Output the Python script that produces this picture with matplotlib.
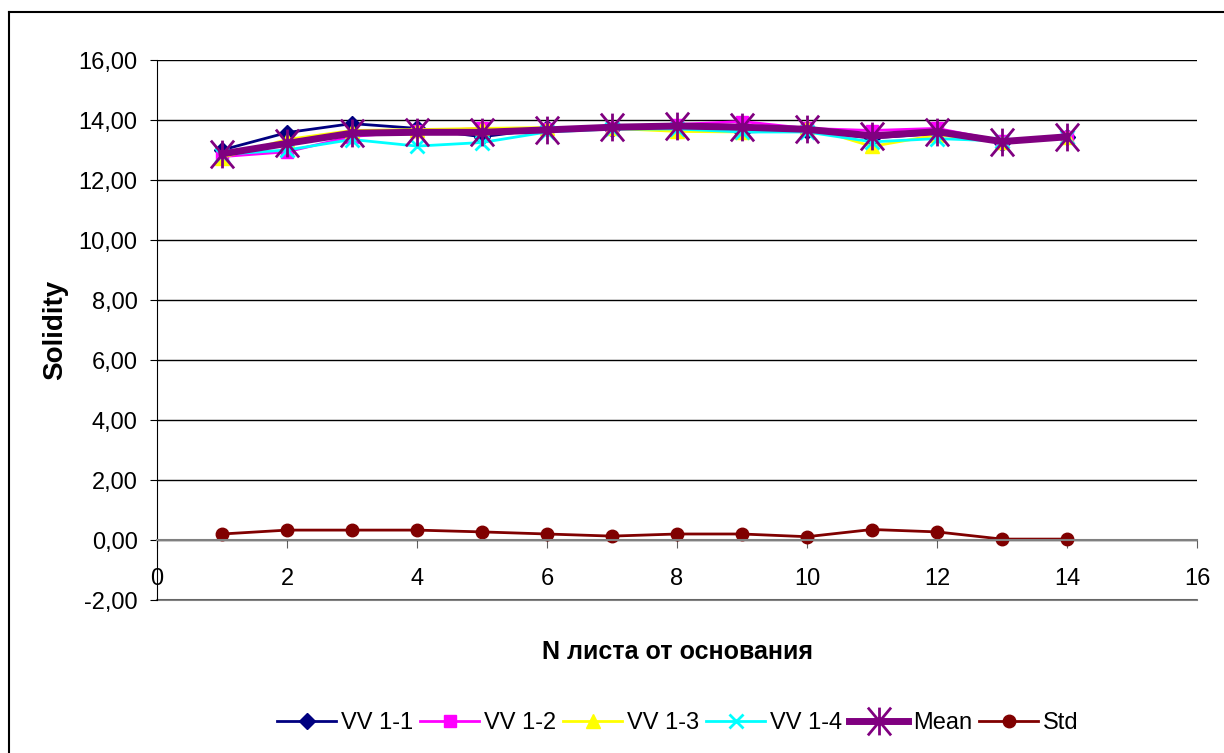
import matplotlib
matplotlib.use("Agg")
import matplotlib.pyplot as plt
from matplotlib.path import Path
from matplotlib.ticker import FuncFormatter

plt.rcParams['font.family'] = ['Liberation Sans', 'DejaVu Sans']

leaf = [1, 2, 3, 4, 5, 6, 7, 8, 9, 10, 11, 12, 13, 14]
vv11 = [13.00, 13.58, 13.88, 13.72, 13.44, 13.72, 13.70, 13.75, 13.60, 13.65, 13.40, 13.55, 13.25, 13.45]
vv12 = [12.78, 12.94, 13.45, 13.62, 13.72, 13.70, 13.75, 13.85, 13.95, 13.72, 13.65, 13.72, 13.30, 13.45]
vv13 = [12.75, 13.35, 13.65, 13.68, 13.72, 13.75, 13.72, 13.62, 13.60, 13.78, 13.12, 13.50, 13.28, 13.45]
vv14 = [12.85, 13.00, 13.35, 13.13, 13.25, 13.60, 13.70, 13.70, 13.60, 13.60, 13.27, 13.38, 13.30, 13.45]
mean = [12.87, 13.22, 13.56, 13.59, 13.59, 13.67, 13.76, 13.80, 13.76, 13.69, 13.47, 13.61, 13.28, 13.44]
std = [0.20, 0.33, 0.33, 0.33, 0.27, 0.20, 0.13, 0.20, 0.20, 0.11, 0.35, 0.27, 0.03, 0.03]

# Excel style star: an X with a vertical stroke through it
star = Path([(-1, -1.2), (1, 1.2), (-1, 1.2), (1, -1.2), (0, -1.2), (0, 1.2)],
            [Path.MOVETO, Path.LINETO, Path.MOVETO, Path.LINETO, Path.MOVETO, Path.LINETO])

fig = plt.figure(figsize=(12.24, 7.53), dpi=100)
ax = fig.add_axes([157 / 1224, 1 - 600 / 753, (1197 - 157) / 1224, 540 / 753])

ax.plot(leaf, vv11, color='#000080', lw=2, marker='D', ms=8, label='VV 1-1')
ax.plot(leaf, vv12, color='#FF00FF', lw=2, marker='s', ms=9, label='VV 1-2')
ax.plot(leaf, vv13, color='#FFFF00', lw=2, marker='^', ms=10, label='VV 1-3')
ax.plot(leaf, vv14, color='#00FFFF', lw=2, marker='x', ms=10, mew=2, label='VV 1-4')
ax.plot(leaf, mean, color='#800080', lw=5, marker=star, ms=20, mew=2, label='Mean')
ax.plot(leaf, std, color='#800000', lw=2, marker='o', ms=9, label='Std')

ax.set_xlim(0, 16)
ax.set_ylim(-2, 16)
ax.set_xticks(range(0, 17, 2))
ax.set_yticks(range(-2, 17, 2))
ax.yaxis.set_major_formatter(FuncFormatter(lambda v, p: f"{v:.2f}".replace('.', ',')))

ax.yaxis.grid(True, color='black', lw=1)
ax.set_axisbelow(True)
ax.axhline(-2, color='#808080', lw=1.5, clip_on=False, zorder=0.5)

ax.spines['top'].set_visible(False)
ax.spines['right'].set_visible(False)
ax.spines['bottom'].set_position(('data', 0))
ax.spines['bottom'].set_color('#808080')
ax.spines['bottom'].set_linewidth(1.5)
ax.spines['left'].set_color('black')
ax.tick_params(axis='x', direction='out', length=6, color='#606060', pad=14, labelsize=17)
ax.tick_params(axis='y', direction='out', length=5, color='black', pad=9, labelsize=17)

fig.text(55 / 1224, 1 - 330 / 753, 'Solidity', rotation=90, fontsize=20, fontweight='bold',
         ha='center', va='center')
fig.text(677 / 1224, 1 - 652 / 753, 'N листа от основания', fontsize=18, fontweight='bold',
         ha='center', va='center')

fig.legend(loc='center', bbox_to_anchor=(678 / 1224, 1 - 723 / 753), ncol=6, frameon=False,
           fontsize=17, handlelength=2.5, handletextpad=0.2, columnspacing=0.3, borderpad=0)

# outer chart border (clipped at right and bottom like the source)
fig.add_artist(plt.Line2D([9 / 1224, 9 / 1224], [0, 1 - 12 / 753], color='black', lw=1.5))
fig.add_artist(plt.Line2D([9 / 1224, 1], [1 - 12 / 753, 1 - 12 / 753], color='black', lw=1.5))

fig.savefig('out.png', dpi=100)
